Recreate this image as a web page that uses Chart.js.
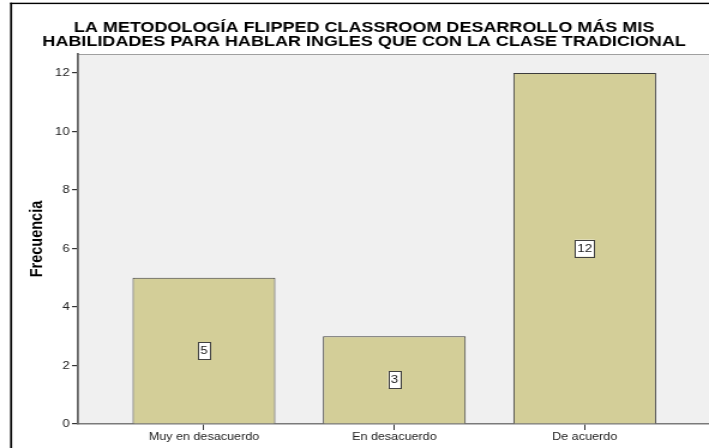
<!DOCTYPE html>
<html>
<head>
<meta charset="utf-8">
<script src="https://cdn.jsdelivr.net/npm/chart.js@4"></script>
<style>
  body { margin: 0; background: #fff; overflow: hidden; }
  /* the reference is stretched horizontally, so the chart is drawn narrow and widened */
  #wrap { width: 591px; height: 448px; transform: scaleX(1.19966); transform-origin: 0 0; }
  #chart { display: block; }
</style>
</head>
<body>
<div id="wrap"><canvas id="chart" width="591" height="448"></canvas></div>
<script>
const titleLines = [
  'LA METODOLOGÍA FLIPPED CLASSROOM DESARROLLO MÁS MIS',
  'HABILIDADES PARA HABLAR INGLES QUE CON LA CLASE TRADICIONAL'
];
const categories = ['Muy en desacuerdo', 'En desacuerdo', 'De acuerdo'];
const frecuencias = [5, 3, 12];
const yTicks = [0, 2, 4, 6, 8, 10, 12];
const yLabel = 'Frecuencia';

const FONT = '"Liberation Sans", Arial, sans-serif';

// plot background, frame lines and title
const framePlugin = {
  id: 'frame',
  beforeDraw(chart) {
    const { ctx, chartArea: a, width } = chart;
    ctx.save();
    ctx.fillStyle = '#f0f0f0';
    ctx.fillRect(a.left, a.top, a.right - a.left, a.bottom - a.top);
    ctx.strokeStyle = '#a0a0a0';
    ctx.lineWidth = 1;
    ctx.beginPath();
    ctx.moveTo(a.left, a.top + 0.5);
    ctx.lineTo(a.right, a.top + 0.5);
    ctx.stroke();

    // outer black frame (top and left only)
    ctx.fillStyle = '#000';
    ctx.fillRect(8.4, 2.7, width - 8.4, 1.4);
    ctx.fillRect(8.4, 2.7, 1.7, chart.height);

    ctx.fillStyle = '#000';
    ctx.font = 'bold 15px ' + FONT;
    ctx.textAlign = 'center';
    ctx.textBaseline = 'alphabetic';
    ctx.fillText(titleLines[0], 303.5, 31.7);
    ctx.fillText(titleLines[1], 303.5, 45.7);
    ctx.restore();
  }
};

// white value boxes in the middle of each bar
const valueBoxes = {
  id: 'valueBoxes',
  afterDatasetsDraw(chart) {
    const { ctx } = chart;
    const meta = chart.getDatasetMeta(0);
    ctx.save();
    ctx.font = '11px ' + FONT;
    ctx.textAlign = 'center';
    ctx.textBaseline = 'middle';
    meta.data.forEach((bar, i) => {
      const txt = String(frecuencias[i]);
      const w = ctx.measureText(txt).width + 4;
      const h = 17;
      const cy = (bar.y + bar.base) / 2;
      ctx.fillStyle = '#fff';
      ctx.fillRect(bar.x - w / 2, cy - h / 2, w, h);
      ctx.strokeStyle = '#404040';
      ctx.lineWidth = 1;
      ctx.strokeRect(Math.round(bar.x - w / 2) + 0.5, Math.round(cy - h / 2) + 0.5, Math.round(w), h);
      ctx.fillStyle = '#222';
      ctx.fillText(txt, bar.x, cy + 0.5);
    });
    ctx.restore();
  }
};

new Chart(document.getElementById('chart'), {
  type: 'bar',
  data: {
    datasets: [{
      label: yLabel,
      data: frecuencias.map((v, i) => ({ x: i + 1, y: v })),
      backgroundColor: '#d3ce98',
      borderColor: '#3c3c3c',
      borderWidth: 1,
      barPercentage: 0.75,
      categoryPercentage: 1
    }]
  },
  options: {
    responsive: false,
    animation: false,
    layout: { padding: { top: 54, left: 0, right: 0, bottom: 0 } },
    plugins: {
      legend: { display: false },
      tooltip: { enabled: false }
    },
    scales: {
      x: {
        type: 'linear',
        offset: false,
        min: 0.3384,
        max: 3.6528,
        afterBuildTicks: (scale) => { scale.ticks = categories.map((c, i) => ({ value: i + 1 })); },
        afterFit: (scale) => { scale.height = 24; },
        ticks: {
          autoSkip: false,
          maxRotation: 0,
          padding: 1,
          color: '#222',
          font: { family: FONT, size: 10.5 },
          callback: (v) => categories[v - 1]
        },
        grid: { offset: false, drawOnChartArea: false, drawTicks: true, tickLength: 6, color: '#333', lineWidth: 1 },
        border: { display: true, color: '#7a7a7a', width: 1.5 }
      },
      y: {
        min: 0,
        max: 12.65,
        afterBuildTicks: (scale) => { scale.ticks = yTicks.map(v => ({ value: v })); },
        afterFit: (scale) => { scale.width = 65; },
        ticks: {
          padding: 2,
          color: '#222',
          font: { family: FONT, size: 11 }
        },
        grid: { drawOnChartArea: false, drawTicks: true, tickLength: 5, color: '#333', lineWidth: 1.2 },
        border: { display: true, color: '#666', width: 1.8 },
        title: {
          display: true,
          text: yLabel,
          color: '#000',
          font: { family: FONT, size: 14.5, weight: 'bold' },
          padding: { top: 22, bottom: 0 }
        }
      }
    }
  },
  plugins: [framePlugin, valueBoxes]
});
</script>
</body>
</html>
